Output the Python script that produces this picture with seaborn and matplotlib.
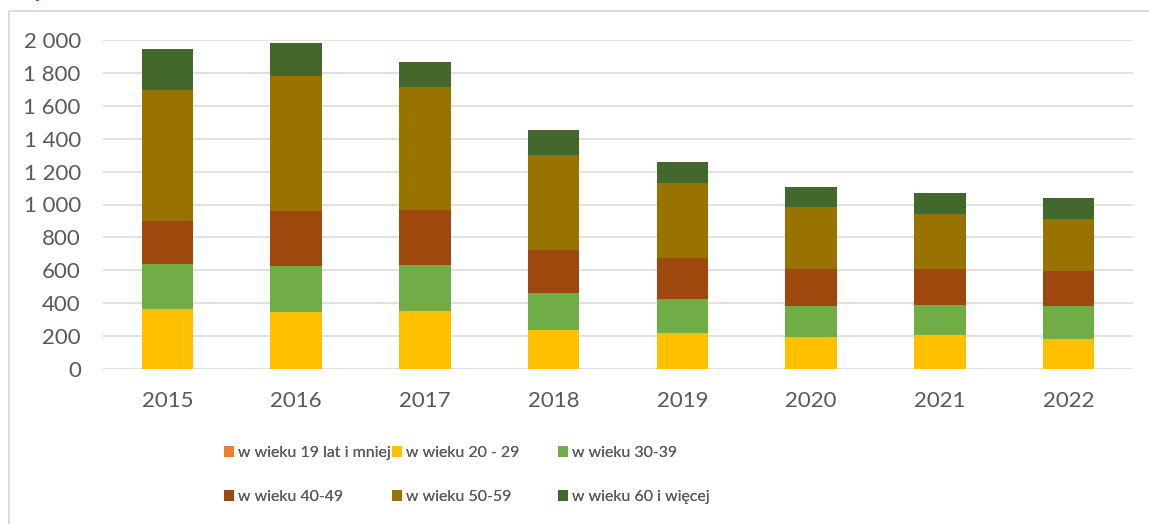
import matplotlib
matplotlib.use("Agg")
import matplotlib.pyplot as plt
import matplotlib.patches as mpatches
from matplotlib.ticker import FuncFormatter, MultipleLocator
import seaborn as sns
import numpy as np

years = ["2015", "2016", "2017", "2018", "2019", "2020", "2021", "2022"]
labels = ["w wieku 19 lat i mniej", "w wieku 20 - 29", "w wieku 30-39",
          "w wieku 40-49", "w wieku 50-59", "w wieku 60 i więcej"]
age_19 = [0, 0, 0, 0, 0, 0, 0, 0]
age_20_29 = [367, 345, 353, 237, 219, 192, 205, 182]
age_30_39 = [271, 281, 277, 225, 204, 193, 182, 199]
age_40_49 = [260, 334, 335, 263, 254, 220, 223, 213]
age_50_59 = [796, 819, 747, 574, 452, 378, 331, 318]
age_60 = [251, 203, 152, 154, 129, 121, 129, 128]
series = [age_19, age_20_29, age_30_39, age_40_49, age_50_59, age_60]
colors = ["#ED7D31", "#FFC000", "#70AD47", "#9E480E", "#997300", "#43682B"]

sns.set_theme(style="white")
plt.rcParams["font.family"] = ["Lato", "DejaVu Sans"]

fig = plt.figure(figsize=(11.49, 5.24), dpi=100)
ax = fig.add_axes([103/1149, 1-369/524, (1133-103)/1149, (369-40)/524])

bottom = np.zeros(len(years))
handles = []
for vals, lab, col in zip(series, labels, colors):
    sns.barplot(x=years, y=vals, bottom=bottom, color=col, width=0.40,
                saturation=1, linewidth=0, ax=ax, label=lab, zorder=3)
    handles.append(mpatches.Patch(facecolor=col, edgecolor="none", label=lab))
    bottom = bottom + np.array(vals)

ax.set_ylim(0, 2000)
ax.set_xlim(-0.5, len(years) - 0.5)
ax.yaxis.set_major_locator(MultipleLocator(200))
ax.yaxis.set_major_formatter(FuncFormatter(lambda v, p: f"{int(v):,}".replace(",", " ")))
ax.grid(axis="y", color="#D9D9D9", linewidth=1.1, zorder=0)
ax.grid(axis="x", visible=False)
for s in ax.spines.values():
    s.set_visible(False)
ax.tick_params(axis="y", length=0, pad=16, labelsize=16, labelcolor="#595959")
ax.tick_params(axis="x", length=0, pad=16, labelsize=16, labelcolor="#595959")
ax.set_xlabel("")
ax.set_ylabel("")
leg0 = ax.get_legend()
if leg0 is not None:
    leg0.remove()

# legend: three columns, two rows
col_x = [224/1149, 392/1149, 558/1149]
for i in range(3):
    hs = [handles[i], handles[i + 3]]
    lg = fig.legend(handles=hs, loc="upper left",
                    bbox_to_anchor=(col_x[i], 1 - 446/524),
                    frameon=False, fontsize=11.4, labelcolor="#595959",
                    handlelength=0.62, handleheight=0.62, handletextpad=0.28,
                    labelspacing=1.9, borderpad=0, borderaxespad=0)
    fig.add_artist(lg)

# chart frame
frame = mpatches.Rectangle((8.5/1149, -0.05), 1.2, 1.05 - 10.5/524,
                           transform=fig.transFigure, fill=False,
                           edgecolor="#D9D9D9", linewidth=1.3)
fig.add_artist(frame)

# clipped title remnant
fig.text(34/1149, 1 + 3/524, "y", color="#C00000", fontsize=15,
         fontweight="bold", style="italic", va="baseline", ha="left")

fig.savefig("out.png", dpi=100)
